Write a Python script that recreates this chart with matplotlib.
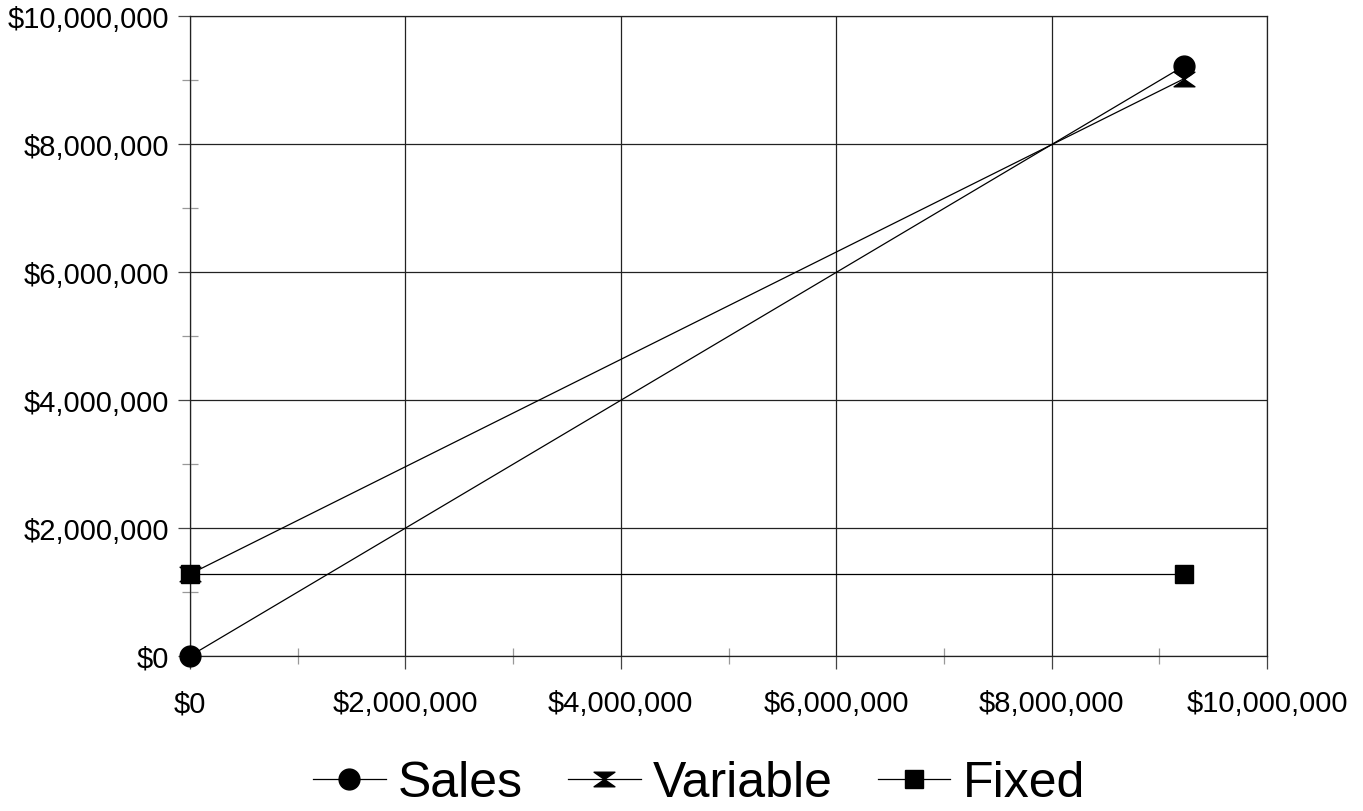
import matplotlib
matplotlib.use("Agg")
import matplotlib.pyplot as plt
from matplotlib.path import Path
from matplotlib.ticker import FuncFormatter, MultipleLocator

plt.rcParams['font.family'] = ['Liberation Sans', 'DejaVu Sans']

# Break-even data (dollars)
volume = [0, 9230000]
sales = [0, 9220000]
variable = [1280000, 9020000]
fixed = [1280000, 1280000]

# hourglass marker: two triangles meeting at the centre
hourglass = Path(
    [(-1, 0.7), (1, 0.7), (0, 0), (-1, 0.7),
     (-1, -0.7), (1, -0.7), (0, 0), (-1, -0.7)],
    [Path.MOVETO, Path.LINETO, Path.LINETO, Path.CLOSEPOLY,
     Path.MOVETO, Path.LINETO, Path.LINETO, Path.CLOSEPOLY])

fig = plt.figure(figsize=(13.63, 8.12), dpi=100)
ax = fig.add_axes([190 / 1363, 1 - 657 / 812, (1267 - 190) / 1363, (657 - 17) / 812])

common = dict(color='black', lw=0.9, clip_on=False, markeredgecolor='black',
              markerfacecolor='black')
ax.plot(volume, variable, marker=hourglass, markersize=15, label='Variable', zorder=3, **common)
ax.plot(volume, fixed, marker='s', markersize=13, label='Fixed', zorder=4, **common)
ax.plot(volume, sales, marker='o', markersize=15, label='Sales', zorder=5, **common)

ax.set_xlim(0, 10000000)
ax.set_ylim(0, 10000000)
ax.xaxis.set_major_locator(MultipleLocator(2000000))
ax.yaxis.set_major_locator(MultipleLocator(2000000))
ax.xaxis.set_minor_locator(MultipleLocator(1000000))
ax.yaxis.set_minor_locator(MultipleLocator(1000000))
fmt = FuncFormatter(lambda v, p: "${:,.0f}".format(v))
ax.xaxis.set_major_formatter(fmt)
ax.yaxis.set_major_formatter(fmt)

ax.grid(True, which='major', color='#222222', lw=0.9)
for s in ax.spines.values():
    s.set_color('#222222')
    s.set_linewidth(0.9)
ax.tick_params(which='major', direction='out', length=9, width=0.9, color='#444444',
               labelsize=21, pad=6)
ax.tick_params(axis='x', which='major', pad=15)
ax.tick_params(which='minor', direction='inout', length=12, width=0.9, color='#999999')
ax.set_axisbelow(True)

handles, labels = ax.get_legend_handles_labels()
order = [labels.index('Sales'), labels.index('Variable'), labels.index('Fixed')]
leg = fig.legend([handles[i] for i in order], [labels[i] for i in order],
                 loc='center', bbox_to_anchor=(0.513, 1 - 784 / 812), ncol=3,
                 frameon=False, fontsize=36, handlelength=1.45, handletextpad=0.25,
                 columnspacing=0.9, markerscale=1.0)

fig.savefig('out.png', dpi=100)
